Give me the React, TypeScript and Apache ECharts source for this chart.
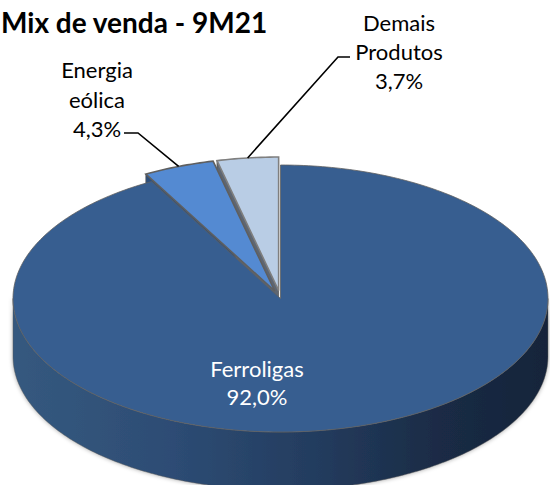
import React, { useEffect, useRef } from 'react';
import * as echarts from 'echarts';

// ---- data ----
const chartTitle = 'Mix de venda - 9M21';
const categories = ['Ferroligas', 'Energia eólica', 'Demais Produtos'];
const values = [92.0, 4.3, 3.7];

// ---- layout / style ----
const W = 550;
const H = 485;
const CX = 280.5;
const CY = 298.5;
const RX = 267.5;
const RY = 133.5;
const DEPTH = 58;
const EXPLODE = [0, 0.06, 0.06];
const TOP_COLORS = ['#375E90', '#548AD2', '#B9CDE5'];
const FACE_COLORS = ['#22395a', '#2c4f7c', '#5d6673'];
const FONT_FAMILY = 'Lato, "Open Sans", sans-serif';

const LABEL_LAYOUT = [
  { x: 257, y: 382, color: '#ffffff', lineHeight: 28, inside: true, anchor: [0, 0], elbow: [0, 0] },
  { x: 97, y: 99, color: '#000000', lineHeight: 29.5, inside: false, anchor: [124, 133], elbow: [138, 133] },
  { x: 399, y: 51, color: '#000000', lineHeight: 29, inside: false, anchor: [350, 57], elbow: [338, 57] },
];

const total = values.reduce((a, b) => a + b, 0);
const starts: number[] = [];
{
  let acc = 0;
  values.forEach((v) => {
    starts.push(acc);
    acc += v;
  });
}

function pt(angleDeg: number, ox: number, oy: number, dz = 0): number[] {
  const a = (angleDeg * Math.PI) / 180;
  return [CX + ox + RX * Math.sin(a), CY + oy - RY * Math.cos(a) + dz];
}

function arc(a0: number, a1: number, ox: number, oy: number, dz = 0): number[][] {
  const pts: number[][] = [];
  const n = Math.max(2, Math.ceil(Math.abs(a1 - a0) / 1));
  for (let i = 0; i <= n; i++) {
    pts.push(pt(a0 + ((a1 - a0) * i) / n, ox, oy, dz));
  }
  return pts;
}

function fmtPct(v: number): string {
  return ((v / total) * 100).toFixed(1).replace('.', ',') + '%';
}

const renderItem = (params: any, api: any) => {
  const idx = params.dataIndex;
  const v = api.value(0) as number;
  const a0 = (starts[idx] / total) * 360;
  const a1 = a0 + (v / total) * 360;
  const mid = (a0 + a1) / 2;
  const e = EXPLODE[idx];
  const mr = (mid * Math.PI) / 180;
  const ox = e * RX * Math.sin(mr);
  const oy = -e * RY * Math.cos(mr);
  const center = [CX + ox, CY + oy];
  const centerLow = [CX + ox, CY + oy + DEPTH];
  const children: any[] = [];

  // front wall
  const s = Math.max(a0, 90);
  const t = Math.min(a1, 270);
  if (s < t) {
    const topArc = arc(s, t, ox, oy);
    const botArc = arc(t, s, ox, oy, DEPTH);
    children.push({
      type: 'polygon',
      z2: 1,
      shape: { points: topArc.concat(botArc) },
      style: {
        fill: {
          type: 'linear',
          x: CX - RX,
          y: 0,
          x2: CX + RX,
          y2: 0,
          global: true,
          colorStops: [
            { offset: 0, color: '#35597f' },
            { offset: 0.3, color: '#2d4c74' },
            { offset: 0.55, color: '#243d60' },
            { offset: 0.8, color: '#1a2b45' },
            { offset: 1, color: '#16243a' },
          ],
        },
        stroke: 'rgba(90,90,90,0.6)',
        lineWidth: 0.8,
        shadowBlur: 4,
        shadowColor: 'rgba(0,0,0,0.35)',
      },
    });
  }

  // radial faces (visible ones)
  const sa0 = Math.sin((a0 * Math.PI) / 180);
  if (sa0 < -1e-6) {
    const r = pt(a0, ox, oy);
    children.push({
      type: 'polygon',
      z2: 2,
      shape: { points: [center, r, [r[0], r[1] + DEPTH], centerLow] },
      style: { fill: FACE_COLORS[idx], stroke: '#555', lineWidth: 0.8 },
    });
  }
  const sa1 = Math.sin((a1 * Math.PI) / 180);
  if (sa1 > 1e-6 && a1 < 359.999) {
    const r = pt(a1, ox, oy);
    children.push({
      type: 'polygon',
      z2: 2,
      shape: { points: [center, r, [r[0], r[1] + DEPTH], centerLow] },
      style: { fill: FACE_COLORS[idx], stroke: '#555', lineWidth: 0.8 },
    });
  }

  // top face
  children.push({
    type: 'polygon',
    z2: 5 + idx,
    shape: { points: [center].concat(arc(a0, a1, ox, oy)) },
    style: {
      fill: TOP_COLORS[idx],
      stroke: idx === 2 ? '#7f7f7f' : '#5f5f5f',
      lineWidth: idx === 0 ? 0.8 : 1.6,
      lineJoin: 'miter',
    },
  });

  // labels
  const L = LABEL_LAYOUT[idx];
  const name = categories[idx];
  const text = L.inside
    ? `${name}\n${fmtPct(v)}`
    : `${name.split(' ').join('\n')}\n${fmtPct(v)}`;
  children.push({
    type: 'text',
    z2: 30,
    x: L.x,
    y: L.y,
    style: {
      text,
      fill: L.color,
      fontSize: 22,
      fontFamily: FONT_FAMILY,
      lineHeight: L.lineHeight,
      align: 'center',
      verticalAlign: 'middle',
      textAlign: 'center',
      textVerticalAlign: 'middle',
    },
  });
  if (!L.inside) {
    const rim = pt(mid, ox, oy);
    children.push({
      type: 'polyline',
      z2: 30,
      shape: { points: [L.anchor, L.elbow, rim] },
      style: { stroke: '#000', lineWidth: 1.6, fill: 'none' },
    });
  }

  return { type: 'group', children };
};

export default function App() {
  const ref = useRef<HTMLDivElement>(null);
  useEffect(() => {
    if (!ref.current) return;
    const chart = echarts.init(ref.current, undefined, { renderer: 'svg' });
    chart.setOption({
      animation: false,
      backgroundColor: '#ffffff',
      graphic: [
        {
          type: 'text',
          x: 1,
          y: 22,
          z: 10,
          style: {
            text: chartTitle,
            fill: '#000',
            fontSize: 28,
            fontWeight: 'bold',
            fontFamily: FONT_FAMILY,
            verticalAlign: 'middle',
            textVerticalAlign: 'middle',
          },
        },
      ],
      series: [
        {
          type: 'custom',
          coordinateSystem: 'none',
          silent: true,
          animation: false,
          renderItem,
          data: values.map((v, i) => ({ name: categories[i], value: [v] })),
        },
      ],
    });
    return () => chart.dispose();
  }, []);
  return (
    <div
      ref={ref}
      style={{ position: 'absolute', left: 0, top: 0, width: W, height: H }}
    />
  );
}
